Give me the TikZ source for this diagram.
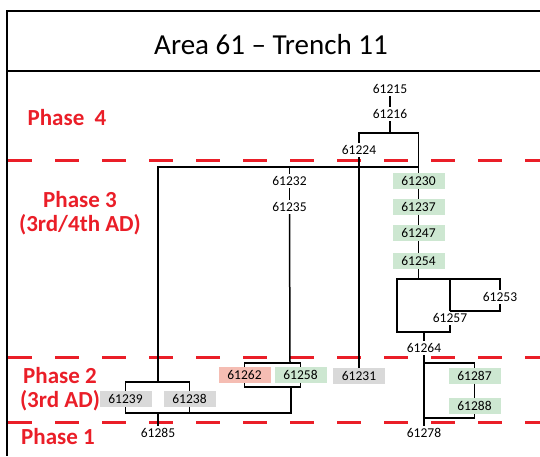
\documentclass[tikz,border=0pt]{standalone}
\usepackage{fontspec}
\setmainfont{Carlito}
\usepackage{xcolor}
\usepackage{tikz}

\definecolor{phasered}{RGB}{234,30,40}
\definecolor{boxgreen}{RGB}{205,231,209}
\definecolor{boxgray}{RGB}{217,217,217}
\definecolor{boxpink}{RGB}{245,189,179}

\begin{document}
\begin{tikzpicture}[x=1pt, y=-1pt,
  unit/.style={font=\fontsize{13.5}{15}\selectfont, inner sep=1pt, outer sep=1.5pt},
  green unit/.style={unit, fill=boxgreen, minimum width=52pt, minimum height=16pt, inner sep=0pt, outer sep=0pt},
  gray unit/.style={unit, fill=boxgray, minimum width=52pt, minimum height=16pt, inner sep=0pt, outer sep=0pt},
  pink unit/.style={unit, fill=boxpink, minimum width=52pt, minimum height=16pt, inner sep=0pt, outer sep=0pt},
  phase/.style={text=phasered, font=\fontsize{23}{24}\selectfont\bfseries, align=center},
  phase line/.style={phasered, line width=3pt, dash pattern=on 24pt off 23pt},
  link/.style={line width=1.5pt}]
  \useasboundingbox (0,0) rectangle (540,456);
  \draw[line width=2pt] (540,10.5) -- (7,10.5) -- (7,456);
  \draw[line width=2pt] (7,71) -- (540,71);
  \node[font=\fontsize{29}{32}\selectfont] (title) at (271,45) {Area 61 -- Trench 11};
  \draw[phase line] (8,160) -- (540,160);
  \draw[phase line] (8,357) -- (540,357);
  \draw[phase line] (8,422) -- (540,422);
  \node[phase] (p4) at (67,118) {Phase\ \ 4};
  \node[phase] (p3) at (80,213.5) {Phase 3\\(3rd/4th AD)};
  \node[phase] (p2) at (60,389.5) {Phase 2\\(3rd AD)};
  \node[phase] (p1) at (58,437) {Phase 1};
  \node[unit] (n61215) at (390,89) {61215};
  \node[unit] (n61216) at (390,114) {61216};
  \node[unit] (n61224) at (359,150) {61224};
  \node[green unit] (n61230) at (418.5,180.5) {61230};
  \node[green unit] (n61237) at (418.5,206.5) {61237};
  \node[green unit] (n61247) at (418.5,233) {61247};
  \node[green unit] (n61254) at (418.5,261) {61254};
  \node[unit] (n61232) at (289.5,181) {61232};
  \node[unit] (n61235) at (289.5,207) {61235};
  \node[unit] (n61253) at (500,297) {61253};
  \node[unit] (n61257) at (450,318) {61257};
  \node[unit] (n61264) at (424,348) {61264};
  \node[gray unit] (n61231) at (359,376) {61231};
  \node[pink unit] (n61262) at (244.5,375) {61262};
  \node[green unit] (n61258) at (300.5,375) {61258};
  \node[gray unit] (n61239) at (125.5,398.5) {61239};
  \node[gray unit] (n61238) at (189.5,398.5) {61238};
  \node[unit] (n61285) at (158,433) {61285};
  \node[green unit] (n61287) at (474.5,375.5) {61287};
  \node[green unit] (n61288) at (474.5,405.5) {61288};
  \node[unit] (n61278) at (424,433) {61278};
  \coordinate (top) at (390,133);
  \coordinate (cross) at (418.5,167);
  \coordinate (left) at (158,382);
  \coordinate (split) at (397,279);
  \coordinate (join) at (397,332);
  \coordinate (pitA) at (424,363);
  \coordinate (pitB) at (424,418);
  \coordinate (cutA) at (290,363);
  \coordinate (cutB) at (291,387);
  \coordinate (cutC) at (291,413);
  \draw[link] (n61215) -- (n61216);
  \draw[link] (n61216.south) -- (top);
  \draw[link] (n61224.north) |- (top) -| (n61230.north);
  \draw[link] (cross) -| (left);
  \draw[link] (n61239.north) |- (left) -| (n61238.north);
  \draw[link] (n61232.north) -- (n61232.north |- cross);
  \draw[link] (n61232) -- (n61235);
  \draw[link] (n61235.south) -- (cutA);
  \draw[link] (n61262.north) |- (n61258.north |- cutA) -- (n61258.north);
  \draw[link] (n61262.south) |- (n61258.south |- cutB) -- (n61258.south);
  \draw[link] (cutB) -- (cutC) -| (n61239.south);
  \draw[link] (n61238.south) -- (n61238.south |- cutC);
  \draw[link] (n61285.north) -- (n61285.north |- cutC);
  \draw[link] (n61224.south) -- (n61231.north);
  \draw[link] (n61230) -- (n61237);
  \draw[link] (n61237) -- (n61247);
  \draw[link] (n61247) -- (n61254);
  \draw[link] (n61254.south) -- (n61254.south |- split);
  \draw[link] (n61253.north) |- (split) -- (join) -| (n61257.south);
  \draw[link] (n61253.south) |- (n61257.north);
  \draw[link] (n61257.north) -- (n61257.north |- split);
  \draw[link] (n61264.north) -- (n61264.north |- join);
  \draw[link] (n61264.south) -- (n61278.north);
  \draw[link] (pitA) -| (n61287.north);
  \draw[link] (n61287) -- (n61288);
  \draw[link] (pitB) -| (n61288.south);
\end{tikzpicture}
\end{document}
